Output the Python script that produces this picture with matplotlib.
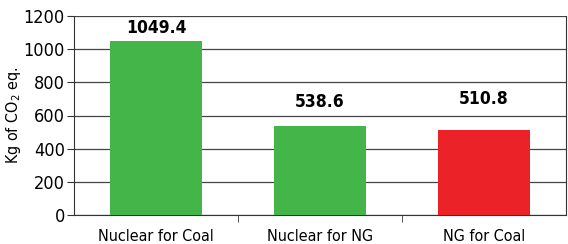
import matplotlib
matplotlib.use("Agg")
import matplotlib.pyplot as plt

plt.rcParams['font.family'] = ['DejaVu Sans']
plt.rcParams['font.stretch'] = 'condensed'

categories = ['Nuclear for Coal', 'Nuclear for NG', 'NG for Coal']
values = [1049.4, 538.6, 510.8]
colors = ['#44b649', '#44b649', '#ec2229']
yticks = [0, 200, 400, 600, 800, 1000, 1200]
label_gap_px = [4, 15, 22]   # labels don't sit at the same height above each bar

fig = plt.figure(figsize=(5.68, 2.44), dpi=100)
ax = fig.add_axes([74 / 568, 1 - 215 / 244, 492 / 568, 199 / 244])

x = range(len(categories))
bars = ax.bar(x, values, width=0.555, color=colors, zorder=3)

for xi, v, g in zip(x, values, label_gap_px):
    ax.annotate(f'{v:.1f}', (xi, v), xytext=(0, g * 0.72), textcoords='offset points',
                ha='center', va='bottom', fontsize=12.5, fontweight='bold')

ax.set_xlim(-0.5, len(categories) - 0.5)
ax.set_ylim(0, 1200)
ax.set_yticks(yticks)
ax.set_yticklabels([str(t) for t in yticks], fontsize=13)
ax.set_xticks(x)
ax.set_xticklabels(categories, fontsize=11.5)
ax.tick_params(axis='x', length=0, pad=10)
# category separators
ax.set_xticks([0.5, 1.5], minor=True)
ax.tick_params(axis='x', which='minor', length=5, color='#333333')
ax.tick_params(axis='y', length=5, color='#333333', pad=1.5)

ax.grid(axis='y', color='#444444', linewidth=0.9, zorder=0)
for s in ['left', 'bottom', 'right']:
    ax.spines[s].set_color('#333333')
ax.spines['top'].set_visible(False)

ax.set_ylabel('Kg of CO$_2$ eq.', fontsize=11.5)
ax.yaxis.set_label_coords(-51 / 492, 0.5)

fig.savefig('out.png', dpi=100)
